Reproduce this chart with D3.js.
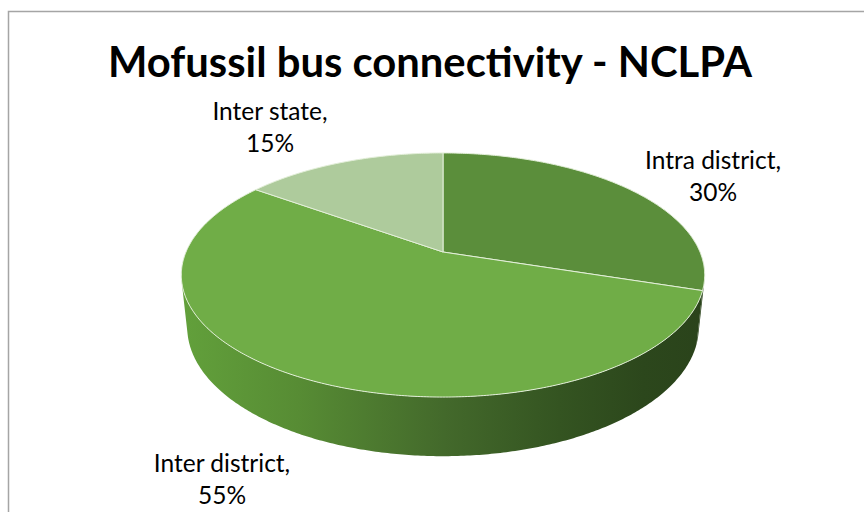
<!DOCTYPE html>
<html>
<head>
<meta charset="utf-8">
<script src="https://cdn.jsdelivr.net/npm/d3@7"></script>
<style>
  body { margin: 0; background: #fff; }
  text { font-family: Lato, "Open Sans", sans-serif; fill: #000; }
</style>
</head>
<body>
<script>
"use strict";
// chart values
const categories = ["Intra district", "Inter district", "Inter state"];
const shares = [30, 55, 15];
const topColors = ["#5b8e3b", "#70ad47", "#aecb9c"];
const chartTitle = "Mofussil bus connectivity - NCLPA";

// layout
const W = 864, H = 512;
const view = { cx: 443, cy: 252, scale: 257, sinT: 0.458, cosT: 0.889, focal: 4.716, depth: 0.23 };
// label anchors (centre x, first baseline y)
const labelPos = [[713, 169], [222, 472], [270, 120]];

const svg = d3.select("body").append("svg")
    .attr("width", W)
    .attr("height", H);

// chart border
svg.append("rect")
    .attr("x", 8.5).attr("y", 11.5)
    .attr("width", 900).attr("height", 600)
    .attr("fill", "none")
    .attr("stroke", "#a5a5a5")
    .attr("stroke-width", 1.5);

// side shading, lighter on the left, darker on the right
const defs = svg.append("defs");
const grad = defs.append("linearGradient")
    .attr("id", "sideGrad")
    .attr("gradientUnits", "userSpaceOnUse")
    .attr("x1", 183).attr("y1", 0).attr("x2", 706).attr("y2", 0);
[[0, "#62a03b"], [0.22, "#578c34"], [0.5, "#43692b"], [0.72, "#345421"], [0.88, "#2c471c"], [1, "#2a431b"]]
    .forEach(s => grad.append("stop").attr("offset", s[0]).attr("stop-color", s[1]));

// project a point on the pie (angle clockwise from back, radius, height) to the screen
function project(theta, r, y) {
    const X = r * Math.sin(theta);
    const Z = -r * Math.cos(theta);
    const yc = Z * view.sinT - y * view.cosT;
    const d = Z * view.cosT + y * view.sinT;
    const k = view.focal / (view.focal - d);
    return [view.cx + view.scale * X * k, view.cy + view.scale * yc * k];
}

function arcPoints(a0, a1, y) {
    const n = Math.max(2, Math.ceil(Math.abs(a1 - a0) / 0.01));
    return d3.range(n + 1).map(i => project(a0 + (a1 - a0) * i / n, 1, y));
}

const pie = d3.pie().sort(null).value(d => d);
const slices = pie(shares);
const line = d3.line();

// visible part of the rim
const z0 = 1 / (view.focal * view.cosT);
const visFrom = Math.acos(-z0), visTo = 2 * Math.PI - visFrom;

const sides = svg.append("g");
slices.forEach(s => {
    const a = Math.max(s.startAngle, visFrom), b = Math.min(s.endAngle, visTo);
    if (b <= a) return;
    const pts = arcPoints(a, b, 0).concat(arcPoints(b, a, -view.depth));
    sides.append("path")
        .attr("d", line(pts) + "Z")
        .attr("fill", "url(#sideGrad)");
});

// top faces
const tops = svg.append("g");
slices.forEach((s, i) => {
    const pts = [project(0, 0, 0)].concat(arcPoints(s.startAngle, s.endAngle, 0));
    tops.append("path")
        .attr("d", line(pts) + "Z")
        .attr("fill", topColors[i])
        .attr("stroke", "#e3efd9")
        .attr("stroke-width", 1)
        .attr("stroke-linejoin", "round");
});

// title, fitted to the reference width
const title = svg.append("text")
    .attr("x", 430).attr("y", 77)
    .attr("text-anchor", "middle")
    .attr("font-weight", "bold")
    .attr("font-size", 44)
    .text(chartTitle);
const tw = title.node().getComputedTextLength();
title.attr("font-size", 44 * 644 / tw);

// data labels
const probe = svg.append("text").attr("font-size", 26).text("Intra district,");
const labelSize = 26 * 136 / probe.node().getComputedTextLength();
probe.remove();

slices.forEach((s, i) => {
    const t = svg.append("text")
        .attr("text-anchor", "middle")
        .attr("font-size", labelSize);
    t.append("tspan").attr("x", labelPos[i][0]).attr("y", labelPos[i][1])
        .text(categories[i] + ",");
    t.append("tspan").attr("x", labelPos[i][0]).attr("y", labelPos[i][1] + 32)
        .text(d3.format(".0%")(s.data / 100));
});
</script>
</body>
</html>
